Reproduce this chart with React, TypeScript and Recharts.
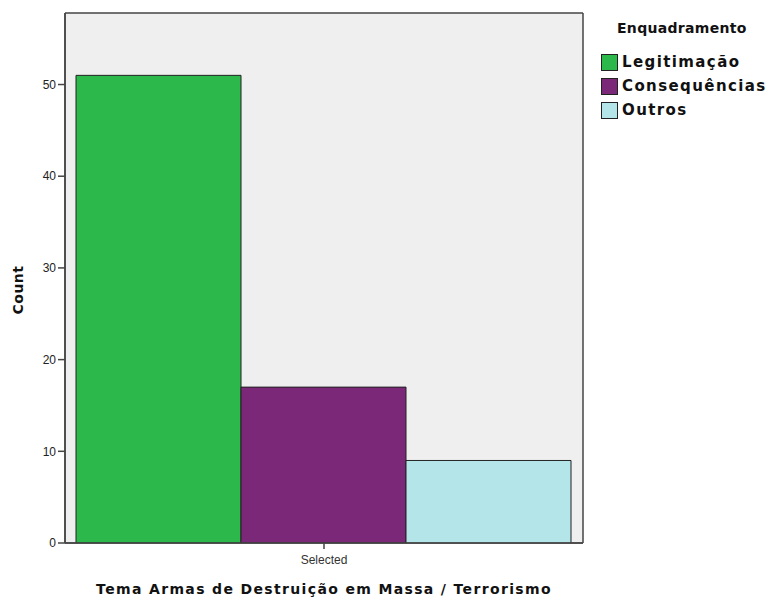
import React from "react";
import { BarChart, Bar, XAxis, YAxis, CartesianGrid, Label } from "recharts";

const categories = ["Selected"];
const seriesNames = ["Legitimação", "Consequências", "Outros"];
const legitimacao = [51];
const consequencias = [17];
const outros = [9];
const yTicks = [0, 10, 20, 30, 40, 50];
const colors = ["#2DB84B", "#7B2879", "#B4E5E8"];

const data = categories.map((c, i) => ({
  name: c,
  s0: legitimacao[i],
  s1: consequencias[i],
  s2: outros[i],
}));

const titleFont = "'DejaVu Sans', Verdana, sans-serif";
const tickFont = "'Liberation Sans', Arial, sans-serif";

const CountLabel = ({ viewBox }: any) => {
  const x = viewBox.x + 18;
  const y = viewBox.y + viewBox.height / 2 + 12;
  return (
    <text
      x={x}
      y={y}
      transform={`rotate(-90, ${x}, ${y})`}
      textAnchor="middle"
      dominantBaseline="central"
      style={{ fontFamily: titleFont, fontWeight: "bold", fontSize: 14, letterSpacing: 0.5, fill: "#111" }}
    >
      Count
    </text>
  );
};

export default function App() {
  return (
    <div style={{ position: "absolute", left: 0, top: 0, width: 767, height: 598, background: "#fff" }}>
      <BarChart
        width={767}
        height={598}
        data={data}
        margin={{ top: 13, right: 184, bottom: 0, left: 0 }}
        barGap={0}
        barCategoryGap={11}
      >
        <CartesianGrid
          fill="#EFEFEF"
          stroke="#444"
          strokeWidth={1.5}
          horizontalCoordinatesGenerator={({ offset }: any) => [offset.top, offset.top + offset.height]}
          verticalCoordinatesGenerator={({ offset }: any) => [offset.left, offset.left + offset.width]}
        />
        <XAxis
          dataKey="name"
          height={55}
          tickSize={6}
          tickMargin={6}
          axisLine={{ stroke: "#444", strokeWidth: 1.5 }}
          tickLine={{ stroke: "#444", strokeWidth: 1.5 }}
          tick={{ fill: "#333", fontSize: 12, fontFamily: tickFont }}
        >
          <Label
            value="Tema Armas de Destruição em Massa / Terrorismo"
            position="insideBottom"
            offset={4}
            style={{ fontFamily: titleFont, fontWeight: "bold", fontSize: 14, letterSpacing: 1.35, fill: "#111" }}
          />
        </XAxis>
        <YAxis
          width={65}
          domain={[0, 57.8]}
          ticks={yTicks}
          allowDataOverflow
          tickSize={7}
          tickMargin={2}
          axisLine={{ stroke: "#444", strokeWidth: 1.5 }}
          tickLine={{ stroke: "#444", strokeWidth: 1.5 }}
          tick={{ fill: "#222", fontSize: 12, fontFamily: tickFont }}
        >
          <Label content={<CountLabel />} />
        </YAxis>
        {["s0", "s1", "s2"].map((k, i) => (
          <Bar key={k} dataKey={k} name={seriesNames[i]} fill={colors[i]} stroke="#222" strokeWidth={1} isAnimationActive={false} />
        ))}
      </BarChart>
      <div style={{ position: "absolute", left: 617, top: 20, fontFamily: titleFont, fontWeight: "bold", fontSize: 14, letterSpacing: 0.3, color: "#111" }}>
        Enquadramento
      </div>
      {seriesNames.map((n, i) => (
        <div
          key={n}
          style={{ position: "absolute", left: 601, top: 53 + i * 24, display: "flex", alignItems: "center", fontFamily: titleFont, fontWeight: "bold", fontSize: 15, letterSpacing: 1.4, color: "#111" }}
        >
          <div style={{ width: 15, height: 15, background: colors[i], border: "1px solid #222", marginRight: 4 }} />
          <span>{n}</span>
        </div>
      ))}
    </div>
  );
}
